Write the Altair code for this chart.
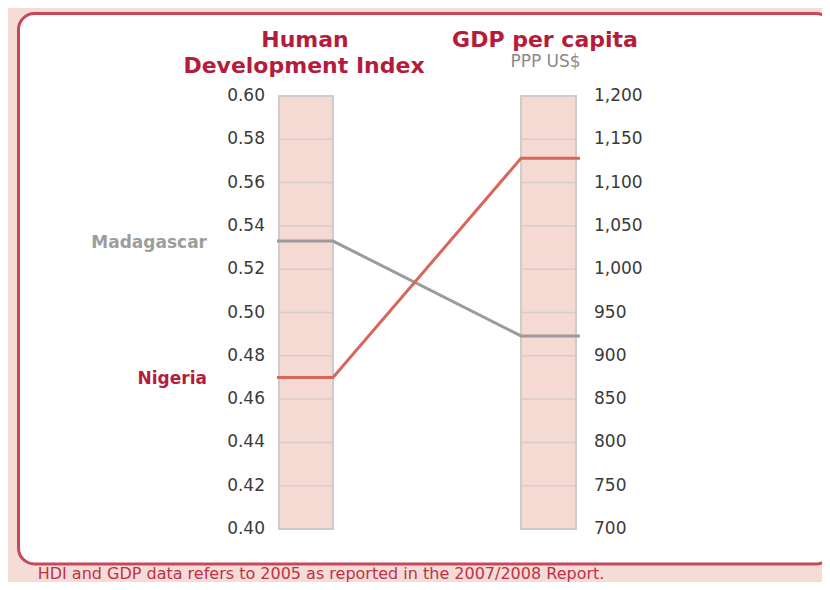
import altair as alt
import pandas as pd

# ---------------- data ----------------
countries = ["Madagascar", "Nigeria"]
hdi_values = [0.533, 0.470]
gdp_values = [923, 1128]

hdi_ticks = [0.40, 0.42, 0.44, 0.46, 0.48, 0.50, 0.52, 0.54, 0.56, 0.58, 0.60]
hdi_tick_labels = ["0.40", "0.42", "0.44", "0.46", "0.48", "0.50",
                   "0.52", "0.54", "0.56", "0.58", "0.60"]
gdp_ticks = [700, 750, 800, 850, 900, 950, 1000, 1050, 1100, 1150, 1200]
gdp_tick_labels = ["700", "750", "800", "850", "900", "950",
                   "1,000", "1,050", "1,100", "1,150", "1,200"]

HDI_DOMAIN = [0.40, 0.60]
GDP_DOMAIN = [700, 1200]

# ---------------- layout / style ----------------
W, H = 303, 433
HDI_COL = (2, 56)
GDP_COL = (244, 299)
LINE_END = 303

PAGE_PINK = "#f6dcd6"
BAR_PINK = "#f5d9d3"
FRAME_RED = "#c8485a"
CRIMSON = "#b51c3c"
line_colors = ["#9b9b9b", "#d8675b"]
label_colors = ["#9d9d9d", "#b51c3c"]
FONT = "DejaVu Sans"

# expression that maps a GDP value onto the HDI axis span
conv = (f"{HDI_DOMAIN[0]} + (datum.value - {GDP_DOMAIN[0]}) / "
        f"({GDP_DOMAIN[1]} - {GDP_DOMAIN[0]}) * ({HDI_DOMAIN[1]} - {HDI_DOMAIN[0]})")

yscale = alt.Scale(domain=HDI_DOMAIN, nice=False, zero=False)
xscale = alt.Scale(domain=[0, W], nice=False, zero=False)

# line table built from the arrays
rows = []
for c, h, g in zip(countries, hdi_values, gdp_values):
    rows.append({"country": c, "x": 0, "value": h, "measure": "hdi", "o": 0})
    rows.append({"country": c, "x": HDI_COL[1], "value": h, "measure": "hdi", "o": 1})
    rows.append({"country": c, "x": GDP_COL[0], "value": g, "measure": "gdp", "o": 2})
    rows.append({"country": c, "x": LINE_END, "value": g, "measure": "gdp", "o": 3})
lines_df = pd.DataFrame(rows)

labels_df = pd.DataFrame({"country": countries, "hdi": hdi_values})
hdi_ticks_df = pd.DataFrame({"v": hdi_ticks, "label": hdi_tick_labels})
gdp_ticks_df = pd.DataFrame({"value": gdp_ticks, "label": gdp_tick_labels})
one = alt.Data(values=[{}])

# frame
frame = alt.Chart(one).mark_rect(
    fill="white", stroke=FRAME_RED, strokeWidth=3, cornerRadius=16
).encode(
    x=alt.value(18.5 - 277), x2=alt.value(832 - 277),
    y=alt.value(13.5 - 96), y2=alt.value(564 - 96),
)

def bar_fill(col):
    return alt.Chart(one).mark_rect(fill=BAR_PINK).encode(
        x=alt.value(col[0]), x2=alt.value(col[1]),
        y=alt.datum(HDI_DOMAIN[0], scale=yscale, axis=None),
        y2=alt.datum(HDI_DOMAIN[1]),
    )

def bar_outline(col):
    return alt.Chart(one).mark_rect(fill=None, stroke="#cdcdcd", strokeWidth=2).encode(
        x=alt.value(col[0]), x2=alt.value(col[1]),
        y=alt.datum(HDI_DOMAIN[0], scale=yscale, axis=None),
        y2=alt.datum(HDI_DOMAIN[1]),
    )

def grid(col):
    return alt.Chart(hdi_ticks_df).mark_rule(color="#d6cdcb", strokeWidth=1.5).encode(
        x=alt.value(col[0]), x2=alt.value(col[1]),
        y=alt.Y("v:Q", scale=yscale, axis=None),
    )

lines = alt.Chart(lines_df).transform_calculate(
    pos=f"datum.measure == 'gdp' ? ({conv}) : datum.value"
).mark_line(strokeWidth=3).encode(
    x=alt.X("x:Q", scale=xscale, axis=None),
    y=alt.Y("pos:Q", scale=yscale, axis=None),
    color=alt.Color("country:N", scale=alt.Scale(domain=countries, range=line_colors), legend=None),
    order="o:Q",
)

hdi_labels = alt.Chart(hdi_ticks_df).mark_text(
    align="right", baseline="middle", font=FONT, fontSize=17, color="#3a3a3a"
).encode(
    x=alt.value(-12), y=alt.Y("v:Q", scale=yscale, axis=None), text="label:N"
)

gdp_labels = alt.Chart(gdp_ticks_df).transform_calculate(
    pos=conv
).mark_text(
    align="left", baseline="middle", font=FONT, fontSize=17, color="#3a3a3a"
).encode(
    x=alt.value(317), y=alt.Y("pos:Q", scale=yscale, axis=None), text="label:N"
)

country_labels = alt.Chart(labels_df).mark_text(
    align="right", baseline="middle", font=FONT, fontSize=17, fontWeight="bold", dy=1.5
).encode(
    x=alt.value(-70), y=alt.Y("hdi:Q", scale=yscale, axis=None), text="country:N",
    fill=alt.Fill("country:N", scale=alt.Scale(domain=countries, range=label_colors), legend=None),
)

def txt(s, x, y, size, color, weight="normal", align="center"):
    return alt.Chart(one).mark_text(
        text=s, align=align, baseline="alphabetic", font=FONT,
        fontSize=size, fontWeight=weight, color=color
    ).encode(x=alt.value(x), y=alt.value(y))

titles = [
    txt("Human", 28, 46.7 - 96, 22, CRIMSON, "bold"),
    txt("Development Index", 27, 73.3 - 96, 22, CRIMSON, "bold"),
    txt("GDP per capita", 268, 47 - 96, 22, CRIMSON, "bold"),
    txt("PPP US$", 268.5, 66.7 - 96, 17, "#8a8a8a"),
    txt("HDI and GDP data refers to 2005 as reported in the 2007/2008 Report.",
        37.7 - 277, 578.5 - 96, 16, "#c0304a", align="left"),
]

chart = alt.layer(
    frame,
    bar_fill(HDI_COL), bar_fill(GDP_COL),
    grid(HDI_COL), grid(GDP_COL),
    bar_outline(HDI_COL), bar_outline(GDP_COL),
    lines,
    hdi_labels, gdp_labels, country_labels,
    *titles,
).resolve_scale(
    color="independent", fill="independent"
).properties(
    width=W, height=H,
    autosize=alt.AutoSizeParams(type="none"),
    padding={"left": 269, "top": 88, "right": 242, "bottom": 53},
    background=PAGE_PINK,
).configure_view(stroke=None)

chart.save("out.html", embed_options={"renderer": "svg", "actions": False})
